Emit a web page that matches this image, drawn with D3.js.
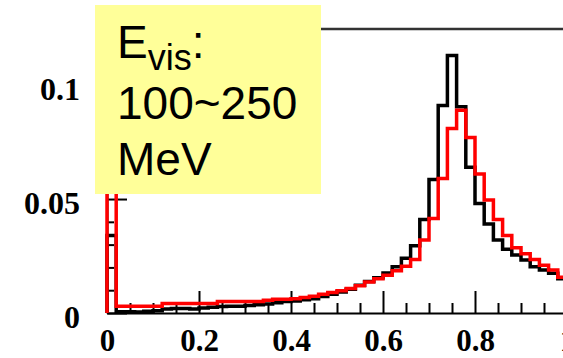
<!DOCTYPE html>
<html>
<head>
<meta charset="utf-8">
<script src="https://cdn.jsdelivr.net/npm/d3@7"></script>
<style>
  html, body { margin: 0; padding: 0; background: #fff; }
  svg { display: block; }
</style>
</head>
<body>
<svg id="chart" width="563" height="358"></svg>
<script>
// ---- data ----
const binLowEdges = [0,0.02,0.04,0.06,0.08,0.10,0.12,0.14,0.16,0.18,
  0.20,0.22,0.24,0.26,0.28,0.30,0.32,0.34,0.36,0.38,
  0.40,0.42,0.44,0.46,0.48,0.50,0.52,0.54,0.56,0.58,
  0.60,0.62,0.64,0.66,0.68,0.70,0.72,0.74,0.76,0.78,
  0.80,0.82,0.84,0.86,0.88,0.90,0.92,0.94,0.96,0.98];
const binUpperEdge = 1.0;

const blackValues = [0.034,0.0006,0.0006,0.0004,0.0008,0.0010,0.0018,0.0020,0.0020,0.0018,
  0.0022,0.0025,0.0028,0.0030,0.0030,0.0033,0.0036,0.0040,0.0045,0.0050,
  0.0053,0.0058,0.0063,0.0072,0.0082,0.0092,0.0104,0.0122,0.0138,0.0155,
  0.0175,0.0203,0.0240,0.0295,0.0410,0.0586,0.0910,0.1130,0.0905,0.0640,
  0.0480,0.0390,0.0320,0.0280,0.0254,0.0232,0.0203,0.0189,0.0174,0.0150];

const redValues = [0.090,0.0030,0.0030,0.0030,0.0030,0.0030,0.0042,0.0042,0.0042,0.0042,
  0.0042,0.0042,0.0050,0.0050,0.0050,0.0050,0.0050,0.0056,0.0060,0.0060,
  0.0062,0.0068,0.0074,0.0082,0.0090,0.0098,0.0108,0.0120,0.0136,0.0150,
  0.0166,0.0185,0.0205,0.0235,0.0320,0.0415,0.0590,0.0810,0.0890,0.0770,
  0.0610,0.0496,0.0410,0.0340,0.0286,0.0260,0.0235,0.0210,0.0189,0.0157];

const xMajorTicks = [0, 0.2, 0.4, 0.6, 0.8, 1.0];
const xMajorLabels = ["0", "0.2", "0.4", "0.6", "0.8", "1"];
const xMinorTicks = [0.05,0.1,0.15,0.25,0.3,0.35,0.45,0.5,0.55,0.65,0.7,0.75,0.85,0.9,0.95];
const yMajorTicks = [0, 0.05, 0.1];
const yMajorLabels = ["0", "0.05", "0.1"];
const yMinorTicks = [0.01,0.02,0.03,0.04,0.06,0.07,0.08,0.09,0.11,0.12];
const yMax = 0.1246;

const boxLines = ["100~250", "MeV"];

// ---- drawing ----
const svg = d3.select("#chart");
svg.append("rect").attr("width", 563).attr("height", 358).attr("fill", "#fff");

const x = d3.scaleLinear().domain([0, 1]).range([107, 567]);
const y = d3.scaleLinear().domain([0, yMax]).range([313, 29]);

const tickFont = "'Liberation Serif', 'Times New Roman', serif";

// frame top
svg.append("line")
  .attr("x1", x(0)).attr("x2", x(1))
  .attr("y1", y(yMax)).attr("y2", y(yMax))
  .attr("stroke", "#333").attr("stroke-width", 2.5);

// x axis: major
const xAxisMajor = d3.axisBottom(x).tickValues(xMajorTicks)
  .tickFormat((d, i) => xMajorLabels[i]).tickSizeInner(-22).tickSizeOuter(0).tickPadding(0);
const gx = svg.append("g").attr("transform", `translate(0,${y(0)})`).call(xAxisMajor);
gx.select(".domain").attr("stroke", "#000").attr("stroke-width", 2);
gx.selectAll(".tick line").attr("stroke", "#000").attr("stroke-width", 2);
gx.selectAll(".tick text")
  .attr("y", 38).attr("dy", 0)
  .attr("font-family", tickFont).attr("font-weight", "bold")
  .attr("font-size", 31).attr("fill", "#000");

// x axis: minor
const xAxisMinor = d3.axisBottom(x).tickValues(xMinorTicks)
  .tickFormat("").tickSizeInner(-10).tickSizeOuter(0);
const gxm = svg.append("g").attr("transform", `translate(0,${y(0)})`).call(xAxisMinor);
gxm.select(".domain").remove();
gxm.selectAll(".tick line").attr("stroke", "#000").attr("stroke-width", 2);

// y axis: major
const yAxisMajor = d3.axisLeft(y).tickValues(yMajorTicks)
  .tickFormat((d, i) => yMajorLabels[i]).tickSizeInner(-20).tickSizeOuter(0).tickPadding(27);
const gy = svg.append("g").attr("transform", `translate(${x(0)},0)`).call(yAxisMajor);
gy.select(".domain").attr("stroke", "#000").attr("stroke-width", 2);
gy.selectAll(".tick line").attr("stroke", "#000").attr("stroke-width", 2);
gy.selectAll(".tick text")
  .attr("x", -27).attr("dy", "0.45em")
  .attr("font-family", tickFont).attr("font-weight", "bold")
  .attr("font-size", 32).attr("fill", "#000");

// y axis: minor
const yAxisMinor = d3.axisLeft(y).tickValues(yMinorTicks)
  .tickFormat("").tickSizeInner(-7).tickSizeOuter(0);
const gym = svg.append("g").attr("transform", `translate(${x(0)},0)`).call(yAxisMinor);
gym.select(".domain").remove();
gym.selectAll(".tick line").attr("stroke", "#000").attr("stroke-width", 2);

// histograms
function histPoints(vals) {
  const pts = [[binLowEdges[0], 0]];
  vals.forEach((v, i) => pts.push([binLowEdges[i], v]));
  pts.push([binUpperEdge, vals[vals.length - 1]]);
  return pts;
}
const stepLine = d3.line()
  .x(d => x(d[0])).y(d => y(d[1]))
  .curve(d3.curveStepAfter);

svg.append("path").attr("d", stepLine(histPoints(blackValues)))
  .attr("fill", "none").attr("stroke", "#000").attr("stroke-width", 3.5)
  .attr("stroke-linejoin", "miter");
svg.append("path").attr("d", stepLine(histPoints(redValues)))
  .attr("fill", "none").attr("stroke", "#ff0000").attr("stroke-width", 3.5)
  .attr("stroke-linejoin", "miter");

// yellow label box
svg.append("rect")
  .attr("x", 95).attr("y", 5).attr("width", 226).attr("height", 189)
  .attr("fill", "#ffff99");

const sans = "'Liberation Sans', Arial, sans-serif";
const t1 = svg.append("text").attr("x", 117).attr("y", 58)
  .attr("font-family", sans).attr("font-size", 46).attr("fill", "#000");
t1.append("tspan").text("E");
t1.append("tspan").attr("font-size", 36).attr("dy", 12).text("vis");
t1.append("tspan").attr("dy", -12).text(":");

svg.selectAll("text.boxline").data(boxLines).enter().append("text")
  .attr("class", "boxline")
  .attr("x", 117).attr("y", (d, i) => [119, 175][i])
  .attr("font-family", sans).attr("font-size", 46).attr("fill", "#000")
  .text(d => d);
</script>
</body>
</html>
